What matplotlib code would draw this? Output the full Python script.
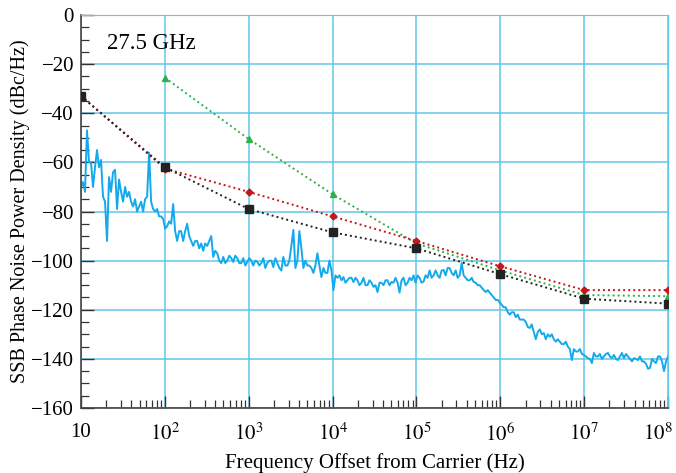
import matplotlib
matplotlib.use("Agg")
import matplotlib.pyplot as plt
import matplotlib.transforms as mtrans
import numpy as np
from matplotlib.ticker import FixedLocator, MultipleLocator, LogLocator, NullFormatter

plt.rcParams['font.family'] = ['Liberation Serif', 'DejaVu Serif']
plt.rcParams['mathtext.fontset'] = 'stix'

# model points (offset frequency in Hz, dBc/Hz)
freq_pts = [1e1, 1e2, 1e3, 1e4, 1e5, 1e6, 1e7, 1e8]
black_db = [-33, -62, -79, -88.5, -95, -105.5, -115.5, -117.5]
red_db = [-33, -62.5, -72, -82, -92, -102.3, -112, -112]
green_freq = [1e2, 1e3, 1e4, 1e5, 1e6, 1e7, 1e8]
green_db = [-25.5, -50.5, -73, -93, -104, -114, -114.5]

blue_db = [
    -70, -68, -72, -47, -60, -60, -70, -62, -55, -62, -59, -74, -76, -92, -66, -72,
    -64, -63, -79, -67, -72, -76, -70, -74, -72, -76, -78, -75, -80, -78, -76, -80,
    -75, -74, -56, -76, -79, -80, -79, -82, -82, -83, -87, -86, -84, -85, -77, -88,
    -92, -88, -88, -92, -88, -85, -90, -92, -94, -92, -92, -95, -93, -96, -93, -94,
    -92, -90, -98.5, -96, -97, -100, -101, -98.5, -101, -100, -98, -99, -100.5, -98, -99, -101,
    -101, -99, -102, -100.5, -99, -100, -102, -100, -100.5, -102, -101, -99, -103, -101, -100, -100,
    -102.6, -99, -101, -103, -104, -98.5, -102, -102, -100, -94, -87.5, -103, -100, -88, -95, -103,
    -100, -102, -102, -103, -105, -102, -97, -102, -106.7, -103, -105, -105, -100, -104, -112, -106,
    -107, -106, -108, -106.7, -109, -108, -107, -107, -108.7, -107, -108, -110, -109, -107, -110, -110,
    -108, -109, -110.7, -110, -112.8, -109, -109, -110, -108, -108, -110, -108.7, -109, -107, -109, -113,
    -108, -107, -110, -109, -107, -108, -106, -109, -106, -107, -109, -108.5, -106, -107, -104, -107,
    -106, -104, -106, -107, -104, -103.8, -106, -103, -103, -105, -106, -104, -107, -106, -101, -106,
    -107, -108, -108, -107, -108.7, -109, -110, -110, -111, -112, -112.8, -112, -113, -114, -115, -116,
    -116, -117, -118, -119, -119, -121, -122, -121, -121, -123, -122, -124, -124, -124, -125, -127,
    -127.4, -126, -129, -132, -129, -128, -130, -129.5, -132, -130, -131, -130, -132, -133, -132, -133,
    -134, -134, -133, -135, -136, -140.5, -136, -137, -137, -136, -138, -138.4, -139, -139.7, -140, -141.7,
    -137.6, -139, -139, -138, -140, -139, -138, -137.6, -139, -139.7, -138.4, -140, -140.5, -139, -137.6, -139.7,
    -138, -139, -140, -141, -139.7, -140, -140.5, -139, -141, -141, -142, -144, -143.7, -140, -141, -141.7,
    -139, -139, -141, -145, -141, -139,
]
blue_freq = np.logspace(1, 8, len(blue_db))

x_tick_vals = [1e1, 1e2, 1e3, 1e4, 1e5, 1e6, 1e7, 1e8]
x_tick_labels = ['10', r'$10^2$', r'$10^3$', r'$10^4$', r'$10^5$', r'$10^6$', r'$10^7$', r'$10^8$']

grid_color = '#62c6ea'

fig = plt.figure(figsize=(6.76, 4.73), dpi=100)
ax = fig.add_axes([0.1198, 0.1374, 0.8684, 0.8309])

ax.plot(blue_freq, blue_db, color='#14a9ea', linewidth=1.4, zorder=2)
dot = (0, (1, 1.6))
ax.plot(green_freq, green_db, linestyle=dot, color='#2fb04a', linewidth=1.4,
        marker='^', markersize=5, zorder=3)
ax.plot(freq_pts, red_db, linestyle=dot, color='#c8141a', linewidth=1.4,
        marker='D', markersize=3.5, zorder=4)
ax.plot(freq_pts, black_db, linestyle=dot, color='#222222', linewidth=1.4,
        marker='s', markersize=5.5, zorder=5)

ax.set_xscale('log')
ax.set_xlim(10, 1e8)
ax.set_ylim(-160, 0)

ax.xaxis.set_major_locator(FixedLocator(x_tick_vals))
ax.set_xticks(x_tick_vals)
ax.set_xticklabels(x_tick_labels)
ax.xaxis.set_minor_locator(LogLocator(base=10, subs=np.arange(2, 10), numticks=20))
ax.xaxis.set_minor_formatter(NullFormatter())
ax.yaxis.set_major_locator(MultipleLocator(20))
ax.yaxis.set_minor_locator(MultipleLocator(5))
ax.set_yticklabels([('\u2212%d' % -v if v < 0 else '%d' % v) for v in ax.get_yticks()])

ax.tick_params(which='both', direction='in', top=False, right=False, labelsize=15, colors='#333333',
               labelcolor='black')
ax.tick_params(which='major', length=9, width=1.0)
ax.tick_params(which='minor', length=6, width=0.9)
ax.tick_params(axis='x', which='major', pad=11)
ax.tick_params(axis='y', which='major', pad=5)

# last x label sits a bit to the left, as in the original
lab8 = ax.get_xticklabels()[-1]
lab8.set_transform(lab8.get_transform() + mtrans.ScaledTranslation(-0.1, 0, fig.dpi_scale_trans))

ax.grid(True, which='major', color=grid_color, linewidth=1.1)
ax.set_axisbelow(True)
for side in ['top', 'right']:
    ax.spines[side].set_color(grid_color)
for side in ['left', 'bottom']:
    ax.spines[side].set_color('#444444')
    ax.spines[side].set_linewidth(1.2)

ax.set_xlabel('Frequency Offset from Carrier (Hz)', fontsize=15)
ax.xaxis.set_label_coords(0.5, -0.114)
ax.set_ylabel('SSB Phase Noise Power Density (dBc/Hz)', fontsize=14.5, labelpad=1)
ax.text(20.4, -11.8, '27.5 GHz', fontsize=16.5, ha='left', va='center')

plt.savefig('out.png', dpi=100)
